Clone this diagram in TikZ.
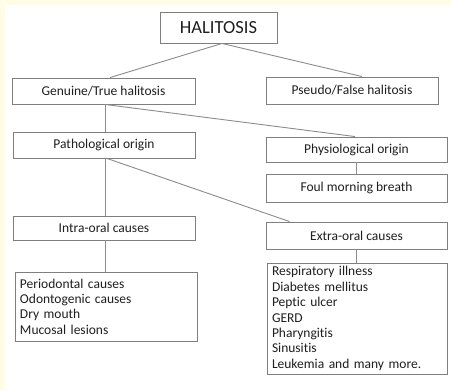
\documentclass[tikz,border=0pt]{standalone}
\usepackage{fontspec}
\setmainfont{Carlito}[Ligatures=NoCommon]
\usetikzlibrary{positioning,calc}

\definecolor{cream}{HTML}{FFFCE8}
\definecolor{boxgray}{HTML}{7F7F7F}
\definecolor{linegray}{HTML}{8C8C8C}
\definecolor{txtgray}{HTML}{1F1F1F}

\tikzset{
    catbox/.style={draw=boxgray, line width=0.9bp, inner sep=0pt, align=center,
        text=txtgray, font=\fontsize{13.5bp}{15bp}\selectfont},
    listbox/.style={draw=boxgray, line width=0.9bp, inner xsep=5bp, inner ysep=0pt,
        align=left, text=txtgray, font=\fontsize{13.5bp}{15.4bp}\selectfont},
    link/.style={draw=linegray, line width=0.9bp}
}

\begin{document}
\begin{tikzpicture}[x=1bp, y=-1bp]
                    % Background
                    \useasboundingbox (0, 0) rectangle (451, 390);
                    \fill[white] (0, 0) rectangle (451, 390);
                    \fill[cream] (0, 0) rectangle (451, 5);
                    \fill[cream] (0, 0) rectangle (5, 390);
                    % Top
                    \node (hal) at (218.5, 27.5) [catbox, minimum width=117bp, minimum height=31bp,
                        font=\fontsize{18.5bp}{20bp}\selectfont] {HALITOSIS};
                    % Second row
                    \node (gen) at (103.5, 91) [catbox, minimum width=183bp, minimum height=26bp] {Genuine/True halitosis};
                    \node (pse) at (352, 90.5) [catbox, minimum width=172bp, minimum height=27bp] {Pseudo/False halitosis};
                    % Origins
                    \node (pat) at (104, 145) [catbox, minimum width=182bp, minimum height=26bp] {Pathological origin};
                    \node (phy) at (356.5, 149.5) [catbox, minimum width=181bp, minimum height=25bp] {Physiological origin};
                    \node (fou) at (356.5, 188) [catbox, minimum width=181bp, minimum height=28bp] {Foul morning breath};
                    % Causes
                    \node (int) at (104, 228) [catbox, minimum width=182bp, minimum height=24bp] {Intra-oral causes};
                    \node (ext) at (356.5, 235.5) [catbox, minimum width=181bp, minimum height=27bp] {Extra-oral causes};
                    % Lists
                    \node (intl) at (106, 306.5) [listbox, minimum width=182bp, minimum height=69bp, text width=172bp]
                        {Periodontal causes\\Odontogenic causes\\Dry mouth\\Mucosal lesions};
                    \node (extl) at (357, 318.5) [listbox, minimum width=180bp, minimum height=111bp, text width=170bp]
                        {Respiratory illness\\Diabetes mellitus\\Peptic ulcer\\GERD\\Pharyngitis\\Sinusitis\\Leukemia and many more.};
                    % Links
                    \draw[link] ([xshift=3.5bp]hal.south) -- ([xshift=6.5bp]gen.north);
                    \draw[link] ([xshift=3.5bp]hal.south) -- ([xshift=10bp]pse.north);
                    \draw[link] ([xshift=1.5bp]gen.south) -- ([xshift=1bp]pat.north);
                    \draw[link] ([xshift=1.5bp]gen.south) -- ([xshift=-1.5bp]phy.north);
                    \draw[link] (phy.south) -- (fou.north);
                    \draw[link] ([xshift=1bp]pat.south) -- ([xshift=1bp]int.north);
                    \draw[link] ([xshift=3bp]pat.south) -- ([xshift=24bp]ext.north west);
                    \draw[link] ([xshift=1bp]int.south) -- ([xshift=1bp]int.south |- intl.north);
                    \draw[link] (ext.south) -- (ext.south |- extl.north);
\end{tikzpicture}
\end{document}
